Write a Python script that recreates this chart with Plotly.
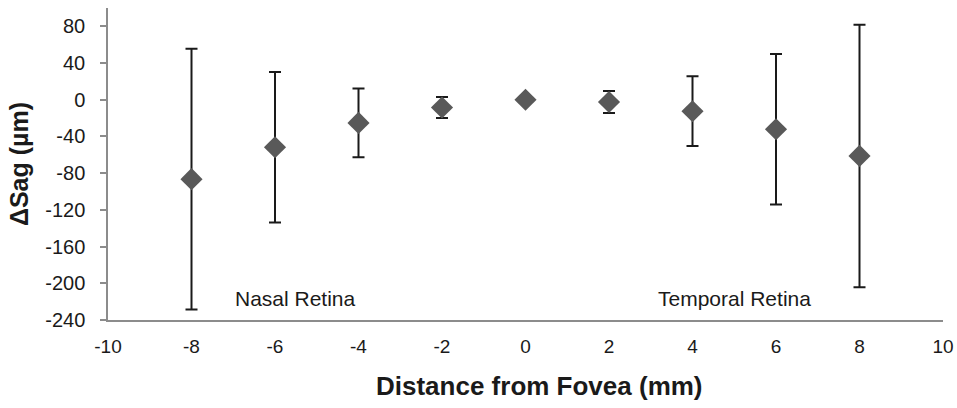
import plotly.graph_objects as go

# Data
distance_mm = [-8, -6, -4, -2, 0, 2, 4, 6, 8]
delta_sag = [-86.5, -51.7, -25.2, -8.5, 0.0, -2.4, -12.5, -32.1, -61.2]
sag_sd = [142, 82, 37.5, 11.5, 0, 12, 38, 82, 143]

x_ticks = [-10, -8, -6, -4, -2, 0, 2, 4, 6, 8, 10]
y_ticks = [-240, -200, -160, -120, -80, -40, 0, 40, 80]

region_labels = ["Nasal Retina", "Temporal Retina"]
region_x = [-5.5, 5.0]
region_y = [-217, -217]

x_title = "Distance from Fovea (mm)"
y_title = "ΔSag (µm)"

font_family = "Liberation Sans, Arial, sans-serif"

fig = go.Figure()
fig.add_trace(go.Scatter(
    x=distance_mm,
    y=delta_sag,
    mode="markers",
    marker=dict(symbol="diamond", size=17, color="#595959"),
    error_y=dict(type="data", array=sag_sd, symmetric=True,
                 color="#1a1a1a", thickness=2, width=6),
    showlegend=False,
    cliponaxis=False,
))

for txt, ax, ay in zip(region_labels, region_x, region_y):
    fig.add_annotation(x=ax, y=ay, text=txt, showarrow=False,
                       font=dict(family=font_family, size=21, color="#1a1a1a"),
                       xanchor="center", yanchor="middle")

# x-axis title (placed as annotation to match the reference's slight offset)
fig.add_annotation(x=0.517, y=-0.212, xref="paper", yref="paper",
                   text=x_title, showarrow=False,
                   xanchor="center", yanchor="middle",
                   font=dict(family=font_family, size=26, color="#1a1a1a", weight="bold"))

fig.update_layout(
    width=957, height=408,
    margin=dict(l=108, r=14, t=8, b=88, autoexpand=False),
    paper_bgcolor="white", plot_bgcolor="white",
    font=dict(family=font_family, color="#1a1a1a"),
)

fig.update_xaxes(
    range=[-10, 10], tickvals=x_ticks, ticktext=[str(v) for v in x_ticks],
    showgrid=False, zeroline=False,
    showline=True, linecolor="#8c8c8c", linewidth=1.5,
    ticks="", ticklabelstandoff=8,
    tickfont=dict(family=font_family, size=19, color="#1a1a1a"),
    automargin=False,
)
fig.update_yaxes(
    range=[-240, 100], tickvals=y_ticks, ticktext=[str(v) for v in y_ticks],
    showgrid=False, zeroline=False,
    showline=True, linecolor="#8c8c8c", linewidth=1.5,
    ticks="outside", ticklen=6, tickcolor="#8c8c8c", tickwidth=1.5,
    ticklabelstandoff=11,
    tickfont=dict(family=font_family, size=20, color="#1a1a1a"),
    title=dict(text=y_title, standoff=9,
               font=dict(family=font_family, size=25, color="#1a1a1a", weight="bold")),
    automargin=False,
)

fig.write_html("out.html", config={"displayModeBar": False},
               post_script="document.body.style.margin='0';")
